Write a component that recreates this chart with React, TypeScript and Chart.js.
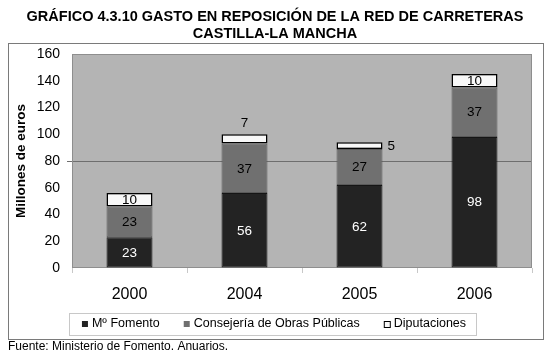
import React, { useEffect, useRef } from "react";
import { Chart, registerables } from "chart.js";

Chart.register(...registerables);

const categories = ["2000", "2004", "2005", "2006"];
const fomento = [23, 56, 62, 98];
const consejeria = [23, 37, 27, 37];
const diputaciones = [10, 7, 5, 10];
const seriesNames = ["Mº Fomento", "Consejería de Obras Públicas", "Diputaciones"];
const titleLines = [
  "GRÁFICO 4.3.10 GASTO EN REPOSICIÓN DE LA RED DE CARRETERAS",
  "CASTILLA-LA MANCHA",
];
const yAxisTitle = "Millones de euros";
const sourceNote = "Fuente: Ministerio de Fomento. Anuarios.";
const yMin = 0;
const yMax = 160;
const yStep = 20;
const gridValue = 80;
// where the label of the thin top segment goes
const topLabelPlacement = ["inside", "above", "right", "inside"];

const FONT = "'Liberation Sans', Arial, sans-serif";
const seriesColors = ["#232323", "#707070", "#f8f8f8"];
const seriesBorders = ["#151515", "#5a5a5a", "#000000"];
const labelColors = ["#ffffff", "#000000", "#000000"];

const decorPlugin = {
  id: "decor",
  beforeDraw(chart: any) {
    const { ctx, chartArea } = chart;
    ctx.save();
    ctx.fillStyle = "#ffffff";
    ctx.fillRect(0, 0, chart.width, chart.height);
    // outer frame
    ctx.strokeStyle = "#7a7a7a";
    ctx.lineWidth = 1;
    ctx.strokeRect(8.5, 43.5, 535, 296);
    // plot background
    ctx.fillStyle = "#b4b4b4";
    ctx.fillRect(chartArea.left, chartArea.top, chartArea.right - chartArea.left, chartArea.bottom - chartArea.top);
    // title
    ctx.fillStyle = "#000";
    ctx.font = `bold 14.5px ${FONT}`;
    ctx.textAlign = "center";
    ctx.textBaseline = "middle";
    ctx.fillText(titleLines[0], 275, 16.5);
    ctx.fillText(titleLines[1], 275, 34);
    // source
    ctx.font = `12px ${FONT}`;
    ctx.textAlign = "left";
    ctx.fillText(sourceNote, 8, 347);
    ctx.restore();
  },
  beforeDatasetsDraw(chart: any) {
    const { ctx, chartArea } = chart;
    ctx.save();
    ctx.strokeStyle = "#8e8e8e";
    ctx.lineWidth = 1;
    ctx.strokeRect(chartArea.left + 0.5, chartArea.top + 0.5, chartArea.right - chartArea.left - 1, chartArea.bottom - chartArea.top - 1);
    ctx.restore();
  },
  afterDatasetsDraw(chart: any) {
    const { ctx } = chart;
    ctx.save();
    ctx.font = `13.5px ${FONT}`;
    chart.data.datasets.forEach((ds: any, di: number) => {
      const meta = chart.getDatasetMeta(di);
      meta.data.forEach((bar: any, i: number) => {
        const v = ds.data[i];
        const txt = String(v);
        let x = bar.x;
        let y = (bar.y + bar.base) / 2;
        ctx.textAlign = "center";
        ctx.textBaseline = "middle";
        ctx.fillStyle = labelColors[di];
        if (di === 2) {
          const p = topLabelPlacement[i];
          if (p === "above") {
            y = bar.y - 11;
          } else if (p === "right") {
            x = bar.x + bar.width / 2 + 5;
            ctx.textAlign = "left";
          }
        }
        ctx.fillText(txt, x, y + 0.5);
      });
    });
    // legend
    const boxL = 69.5, boxT = 313.5, boxR = 476.5, boxB = 335.5;
    ctx.strokeStyle = "#c8c8c8";
    ctx.lineWidth = 1;
    ctx.strokeRect(boxL, boxT, boxR - boxL, boxB - boxT);
    ctx.font = `12.5px ${FONT}`;
    const gap = 24;
    const widths = seriesNames.map((n) => ctx.measureText(n).width);
    const total = widths.reduce((a, w) => a + w + 10, 0) + gap * (seriesNames.length - 1);
    let x = 274 - total / 2;
    const cy = 324;
    seriesNames.forEach((n, k) => {
      ctx.fillStyle = seriesColors[k];
      ctx.fillRect(x, cy - 3, 6, 6);
      if (k === 2) {
        ctx.strokeStyle = "#000";
        ctx.strokeRect(x + 0.5, cy - 2.5, 6, 6);
      }
      ctx.fillStyle = "#000";
      ctx.textAlign = "left";
      ctx.textBaseline = "middle";
      ctx.fillText(n, x + 10, cy);
      x += 10 + widths[k] + gap;
    });
    ctx.restore();
  },
};

export default function App() {
  const ref = useRef<HTMLCanvasElement>(null);
  useEffect(() => {
    if (!ref.current) return;
    const mk = (data: number[], k: number) => ({
      label: seriesNames[k],
      data,
      backgroundColor: seriesColors[k],
      borderColor: seriesBorders[k],
      borderWidth: k === 2 ? 1.5 : 1,
      borderSkipped: false,
      barPercentage: 0.4,
      categoryPercentage: 1,
      stack: "s",
    });
    const chart = new Chart(ref.current, {
      type: "bar",
      data: {
        labels: categories,
        datasets: [mk(fomento, 0), mk(consejeria, 1), mk(diputaciones, 2)],
      },
      options: {
        responsive: false,
        animation: false,
        devicePixelRatio: 1,
        layout: { padding: { left: 0, top: 54, right: 18, bottom: 54 } },
        plugins: {
          legend: { display: false },
          title: { display: false },
          tooltip: { enabled: false },
        },
        scales: {
          x: {
            stacked: true,
            offset: true,
            border: { display: false },
            grid: {
              offset: true,
              drawOnChartArea: false,
              drawTicks: true,
              tickLength: 5,
              tickColor: "#c8c8c8",
            },
            ticks: { color: "#000", font: { family: FONT, size: 16 }, padding: 12 },
            afterFit: (s: any) => {
              s.height = 40;
            },
          },
          y: {
            stacked: true,
            min: yMin,
            max: yMax,
            border: { display: false },
            grid: {
              drawTicks: true,
              tickLength: 5,
              color: (c: any) => (c.tick && c.tick.value === gridValue ? "#6e6e6e" : "transparent"),
              tickColor: (c: any) => (c.tick && c.tick.value === gridValue ? "#6e6e6e" : "transparent"),
            },
            ticks: { stepSize: yStep, color: "#000", font: { family: FONT, size: 14 }, padding: 7 },
            title: {
              display: true,
              text: yAxisTitle,
              color: "#000",
              font: { family: FONT, size: 13.5, weight: "bold" },
              padding: { top: 13, bottom: 0 },
            },
            afterFit: (s: any) => {
              s.width = 72;
            },
          },
        },
      },
      plugins: [decorPlugin],
    } as any);
    return () => chart.destroy();
  }, []);
  return (
    <div style={{ position: "absolute", left: 0, top: 0, width: 550, height: 362, background: "#fff" }}>
      <canvas ref={ref} width={550} height={362} style={{ width: 550, height: 362, display: "block" }} />
    </div>
  );
}
